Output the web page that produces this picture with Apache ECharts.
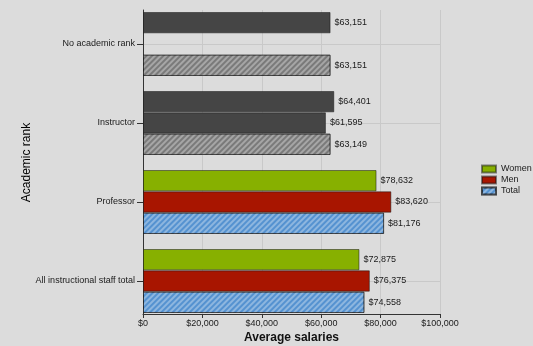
<!DOCTYPE html>
<html>
<head>
<meta charset="utf-8">
<script src="https://cdn.jsdelivr.net/npm/echarts@6/dist/echarts.min.js"></script>
<style>html,body{margin:0;padding:0;background:#dcdcdc;}#c{width:533px;height:346px;}</style>
</head>
<body>
<div id="c"></div>
<script>
const categories = ['No academic rank', 'Instructor', 'Professor', 'All instructional staff total'];
const women = [63151, 64401, 78632, 72875];
const men = [null, 61595, 83620, 76375];
const total = [63151, 63149, 81176, 74558];
const grayedCategories = ['No academic rank', 'Instructor'];
const xTicks = [0, 20000, 40000, 60000, 80000, 100000];

const FONT = "'Liberation Sans', Arial, sans-serif";
const fmt = v => '$' + Number(v).toLocaleString('en-US');
const hatch = { symbol: 'rect', symbolSize: 1, dashArrayX: [1, 0], dashArrayY: [2, 2], rotation: -Math.PI / 4, color: 'rgba(255,255,255,0.33)' };
const border = { borderColor: 'rgba(20,20,20,0.5)', borderWidth: 1 };

function build(values, grayColor) {
  return values.map((v, i) => {
    if (v === null) return null;
    const item = { value: v };
    if (grayedCategories.includes(categories[i])) item.itemStyle = { color: grayColor };
    return item;
  });
}

const labelCfg = { show: true, position: 'right', distance: 4, formatter: p => fmt(p.value), fontFamily: FONT, fontSize: 9, color: '#1a1a1a' };

const chart = echarts.init(document.getElementById('c'), null, { renderer: 'canvas' });
chart.setOption({
  backgroundColor: '#dcdcdc',
  animation: false,
  grid: [
    { left: 143, width: 297, top: 4.5, height: 316, containLabel: false, outerBoundsMode: 'none' },
    { left: 143, width: 297, top: 10, height: 304, containLabel: false, outerBoundsMode: 'none' }
  ],
  legend: {
    orient: 'vertical', left: 481, top: 163.5, itemWidth: 14, itemHeight: 7, itemGap: 0, icon: 'rect', padding: 0,
    textStyle: { fontFamily: FONT, fontSize: 9, lineHeight: 11, color: '#1a1a1a', width: 40, overflow: 'none' },
    data: ['Women', 'Men', 'Total']
  },
  xAxis: [
    { gridIndex: 0, type: 'value', min: xTicks[0], max: xTicks[xTicks.length - 1], interval: 20000, show: false },
    {
      gridIndex: 1, type: 'value', min: xTicks[0], max: xTicks[xTicks.length - 1], interval: 20000,
      axisLine: { show: true, lineStyle: { color: '#333', width: 1 } },
      axisTick: { show: true, length: 4, lineStyle: { color: '#333' } },
      axisLabel: { formatter: v => fmt(v), fontFamily: FONT, fontSize: 9, color: '#1a1a1a', margin: 5 },
      splitLine: { show: true, lineStyle: { color: '#c9c9c9', width: 1 } },
      name: 'Average salaries', nameLocation: 'middle', nameGap: 18, nameMoveOverlap: false,
      nameTextStyle: { fontFamily: FONT, fontSize: 12, fontWeight: 'bold', color: '#111' }
    }
  ],
  yAxis: [
    {
      gridIndex: 0, type: 'category', data: categories, inverse: true,
      axisLine: { show: false },
      axisTick: { show: true, alignWithLabel: true, length: 6, lineStyle: { color: '#333' } },
      axisLabel: { fontFamily: FONT, fontSize: 9, color: '#1a1a1a', margin: 8 },
      splitLine: { show: true, alignWithLabel: true, lineStyle: { color: '#c9c9c9', width: 1 } },
      name: 'Academic rank', nameLocation: 'middle', nameGap: 110, nameMoveOverlap: false,
      nameTextStyle: { fontFamily: FONT, fontSize: 12, color: '#000' }
    },
    {
      gridIndex: 1, type: 'value', min: 0, max: 1,
      axisLine: { show: true, lineStyle: { color: '#333', width: 1 } },
      axisTick: { show: false }, axisLabel: { show: false }, splitLine: { show: false }
    }
  ],
  series: [
    {
      name: 'Women', type: 'bar', xAxisIndex: 0, yAxisIndex: 0, barGap: '0%', barCategoryGap: '19%',
      itemStyle: Object.assign({ color: '#87b000' }, border),
      label: labelCfg,
      data: build(women, '#454545')
    },
    {
      name: 'Men', type: 'bar', xAxisIndex: 0, yAxisIndex: 0, barGap: '0%', barCategoryGap: '19%',
      itemStyle: Object.assign({ color: '#a81500' }, border),
      label: labelCfg,
      data: build(men, '#454545')
    },
    {
      name: 'Total', type: 'bar', xAxisIndex: 0, yAxisIndex: 0, barGap: '0%', barCategoryGap: '19%',
      itemStyle: Object.assign({ color: '#5592d0', decal: hatch }, border),
      label: labelCfg,
      data: build(total, '#7a7a7a')
    }
  ]
});
</script>
</body>
</html>
